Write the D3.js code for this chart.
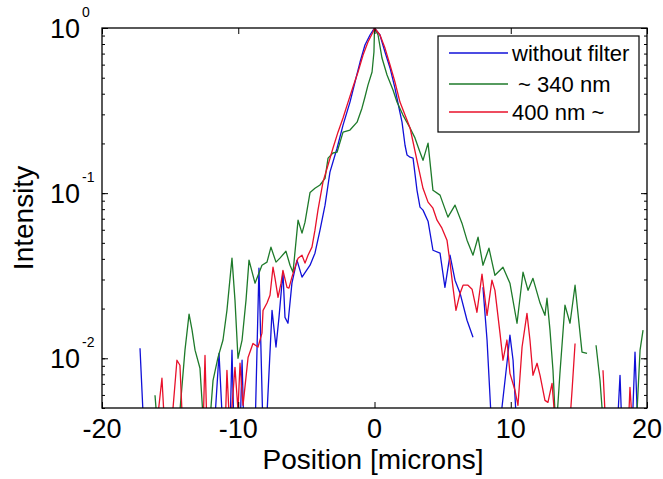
<!DOCTYPE html>
<html>
<head>
<meta charset="utf-8">
<script src="https://cdn.jsdelivr.net/npm/d3@7"></script>
<style>
  body { margin: 0; background: #fff; }
  text { font-family: "Liberation Sans", Arial, sans-serif; fill: #000; }
</style>
</head>
<body>
<svg></svg>
<script>
// series names (legend)
var seriesNames = ["without filter", " ~ 340 nm", "400 nm ~"];

// x ticks / y decades
var xTicks = [-20, -10, 0, 10, 20];
var yDecades = [-2, -1, 0];

// without filter (blue)
var bluePos = [-17.21, -16.92, -11.78, -11.41, -11.12, -10.61, -10.46, -10.31, -9.87, -9.72, -9.58, -8.77, -8.48, -8.18,
    -7.96, -7.52, -7.23, -7.01, -6.72, -6.57, -6.35, -6.06, -5.69, -5.32, -4.73, -4.37, -4.00, -3.63, -3.27, -2.75,
    -2.31, -1.80, -1.43, -1.06, -0.70, -0.33, 0.00, 0.40, 0.77, 1.14, 1.50, 1.80, 2.02, 2.24, 2.39, 2.61, 2.83, 3.12,
    3.34, 3.56, 3.93, 4.29, 4.81, 5.17, 5.54, 5.91, 6.28, 6.79, 7.23, 7.60, 7.96, 8.26, 8.62, 9.14, 9.72, 9.94, 10.17,
    10.46, 17.80, 18.02, 18.17, 18.90, 19.12, 19.34];
var blueInt = [0.0115, 0.0035, 0.0035, 0.0107, 0.0035, 0.0035, 0.0112, 0.0035, 0.0035, 0.00973, 0.0035, 0.0035, 0.0351, 0.0035,
    0.0035, 0.0195, 0.0117, 0.0177, 0.0332, 0.0177, 0.0163, 0.0285, 0.0393, 0.0310, 0.0366, 0.0433, 0.0597, 0.0846, 0.134, 0.187,
    0.258, 0.356, 0.471, 0.622, 0.789, 0.907, 1.0, 0.907, 0.716, 0.573, 0.433, 0.327, 0.269, 0.195, 0.170, 0.165, 0.163, 0.104,
    0.0823, 0.0789, 0.0676, 0.0451, 0.0433, 0.0269, 0.0421, 0.0297, 0.0248, 0.0170, 0.0134, null, 0.0269, 0.0129, 0.0035, 0.0035, 0.00933, 0.0138, 0.00973,
    0.0035, 0.0035, 0.00789, 0.0035, 0.0035, 0.0109, 0.0035];

// ~ 340 nm (green)
var greenPos = [-16.11, -15.89, -14.42, -13.91, -13.61, -13.39, -13.17, -12.81, -12.51, -12.15, -11.85, -11.49, -11.12, -10.83,
    -10.46, -10.24, -10.02, -9.72, -9.43, -9.21, -8.77, -8.26, -7.89, -7.60, -7.23, -6.94, -6.50, -6.20, -5.98, -5.61,
    -5.32, -5.10, -4.73, -4.37, -4.00, -3.63, -3.41, -3.05, -2.75, -2.31, -1.80, -1.28, -0.92, -0.70, -0.48, -0.18, -0.04,
    0.00, 0.26, 0.55, 0.92, 1.36, 1.65, 2.09, 2.61, 2.97, 3.34, 3.56, 3.93, 4.29, 4.81, 5.39, 5.91, 6.42, 6.79, 7.23,
    7.60, 7.96, 8.40, 8.84, 9.43, 9.94, 10.46, 10.90, 11.27, 11.63, 12.15, 12.51, 12.66, 12.88, 13.10, 13.32, 13.61, 13.98,
    14.35, 14.72, 15.23, 15.60, 15.89, 16.26, 16.55, 16.84, 19.19, 19.49, 19.71];
var greenInt = [0.00597, 0.0035, 0.0035, 0.0112, 0.0185, 0.0148, 0.0112, 0.00870, 0.0035, 0.0035, 0.00736, 0.0101, 0.0129, 0.0195,
    0.0404, 0.0225, 0.0100, 0.0129, 0.0225, 0.0393, 0.0285, 0.0366, 0.0382, 0.0471, 0.0382, 0.0404, 0.0445, 0.0366, 0.0332, 0.0686,
    0.0573, 0.0667, 0.101, 0.107, 0.112, 0.123, 0.163, 0.175, 0.177, 0.234, 0.241, 0.269, 0.327, 0.382, 0.451, 0.541, 0.716,
    1.0, 0.907, 0.658, 0.519, 0.421, 0.356, 0.297, 0.248, 0.216, 0.177, 0.158, 0.201, 0.104, 0.0973, 0.0716, 0.0846, 0.0658, 0.0519, 0.0421,
    0.0541, 0.0366, 0.0464, 0.0318, 0.0356, 0.0285, 0.0163, 0.0332, 0.0258, 0.0305, 0.0216, 0.0182, 0.0231, 0.0148, 0.00846, 0.0035, 0.00811, 0.0210,
    0.0163, 0.0277, 0.0109, 0.0107, null, 0.0120, 0.00736, 0.0035, 0.0035, 0.0112, 0.0148];

// 400 nm ~ (red)
var redPos = [-16.04, -15.60, -15.38, -14.94, -14.50, -14.28, -14.06, -12.59, -12.44, -12.29, -10.97, -10.83, -10.61, -10.24,
    -10.02, -9.87, -9.65, -9.28, -8.92, -8.55, -8.26, -8.18, -7.89, -7.67, -7.45, -7.30, -7.08, -6.86, -6.72, -6.42, -6.28,
    -6.06, -5.83, -5.61, -5.32, -5.10, -4.88, -4.59, -4.37, -4.15, -3.78, -3.41, -3.05, -2.68, -2.31, -1.94, -1.58, -1.21,
    -0.84, -0.48, -0.11, 0.00, 0.40, 0.77, 1.14, 1.50, 1.87, 2.24, 2.61, 2.83, 3.19, 3.56, 3.93, 4.29, 4.59, 4.95, 5.32,
    5.54, 5.76, 5.98, 6.28, 6.50, 6.86, 7.16, 7.52, 7.89, 8.26, 8.62, 8.84, 9.21, 9.43, 9.72, 9.94, 10.31, 10.53, 10.83, 11.19,
    11.41, 11.63, 11.93, 12.15, 12.51, 12.73, 13.03, 13.32, 14.28, 14.50, 14.72, 15.82, 16.77, 16.99, 18.61, 18.75, 18.97];
var redInt = [0.0035, 0.00757, 0.0035, 0.0035, 0.00973, 0.00907, 0.0035, 0.0035, 0.0104, 0.0035, 0.0035, 0.00846, 0.0035, 0.00882,
    0.00484, 0.00933, 0.00519, 0.0101, 0.0123, 0.0117, 0.0142, 0.0195, 0.0216, 0.0241, 0.0356, 0.0305, 0.0234, 0.0285, 0.0341, 0.0269, 0.0266,
    0.0310, 0.0356, 0.0404, 0.0421, 0.0377, 0.0421, 0.0471, 0.0597, 0.0789, 0.117, 0.148, 0.187, 0.234, 0.285, 0.356, 0.439, 0.541,
    0.686, 0.823, 0.946, 1.0, 0.907, 0.756, 0.597, 0.471, 0.356, 0.297, 0.248, 0.204, 0.148, 0.107, 0.0882, 0.0811, 0.0686, 0.0614, 0.0519,
    0.0382, 0.0269, 0.0195, 0.0248, 0.0277, 0.0277, 0.0262, 0.0190, 0.0323, 0.0182, 0.0297, 0.0258, 0.0142, 0.00973, 0.0129, 0.00811, 0.00640, 0.00519, 0.0117, 0.0187,
    0.0129, 0.00789, 0.00933, 0.00789, 0.00556, 0.00541, 0.00705, 0.0035, 0.0035, 0.00640, 0.0123, null, 0.00846, 0.0035, 0.0035, 0.00667, 0.0035];

var colors = ["#1010d8", "#1e7a2a", "#e8102a"];

function zip(xs, ys) {
    var out = [];
    for (var i = 0; i < xs.length; i++) out.push({ x: xs[i], y: ys[i] });
    return out;
}
var series = [zip(bluePos, blueInt), zip(greenPos, greenInt), zip(redPos, redInt)];

///////////////////////////////////////////////////////
// canvas
var svgWidth = 663, svgHeight = 479;
var plot = { left: 102, right: 647, top: 28, bottom: 408 };

var svg = d3.select("svg").attr("width", svgWidth).attr("height", svgHeight);

var x = d3.scaleLinear().domain([-20, 20]).range([plot.left, plot.right]);
var y = d3.scaleLog().domain([0.005, 1]).range([plot.bottom, plot.top]);

svg.append("defs").append("clipPath").attr("id", "clip")
    .append("rect")
    .attr("x", plot.left).attr("y", plot.top)
    .attr("width", plot.right - plot.left).attr("height", plot.bottom - plot.top);

// lines
var line = d3.line()
    .defined(d => d.y != null)
    .x(d => x(d.x))
    .y(d => y(d.y));

svg.append("g").attr("clip-path", "url(#clip)")
    .selectAll("path")
    .data(series)
    .enter()
    .append("path")
    .attr("d", line)
    .attr("fill", "none")
    .attr("stroke", (d, i) => colors[i])
    .attr("stroke-width", 1.3)
    .attr("stroke-linejoin", "round");

// minor + major y tick values
var minorY = [];
for (var k = -3; k <= 0; k++) {
    for (var m = 1; m <= 9; m++) {
        var v = m * Math.pow(10, k);
        if (v >= 0.005 && v <= 1.0001) minorY.push(v);
    }
}
var majorY = yDecades.map(d => Math.pow(10, d));

function yTicks(axisFn, tx, size, vals) {
    svg.append("g")
        .attr("transform", "translate(" + tx + ",0)")
        .call(axisFn(y).tickValues(vals).tickSize(size).tickFormat(""))
        .call(g => g.select(".domain").remove())
        .selectAll("line").attr("stroke", "#000");
}
yTicks(d3.axisLeft, plot.left, -3, minorY);
yTicks(d3.axisRight, plot.right, -3, minorY);
yTicks(d3.axisLeft, plot.left, -6, majorY);
yTicks(d3.axisRight, plot.right, -6, majorY);

function xTickLines(axisFn, ty) {
    svg.append("g")
        .attr("transform", "translate(0," + ty + ")")
        .call(axisFn(x).tickValues(xTicks).tickSize(-6).tickFormat(""))
        .call(g => g.select(".domain").remove())
        .selectAll("line").attr("stroke", "#000");
}
xTickLines(d3.axisBottom, plot.bottom);
xTickLines(d3.axisTop, plot.top);

// box
svg.append("rect")
    .attr("x", plot.left).attr("y", plot.top)
    .attr("width", plot.right - plot.left).attr("height", plot.bottom - plot.top)
    .attr("fill", "none").attr("stroke", "#000").attr("stroke-width", 1.3);

// x tick labels
svg.append("g").selectAll("text")
    .data(xTicks).enter()
    .append("text")
    .attr("x", d => x(d))
    .attr("y", 438)
    .attr("text-anchor", "middle")
    .attr("font-size", 27)
    .text(d => d < 0 ? "-" + Math.abs(d) : d);

// y tick labels 10^n
svg.append("g").selectAll("text")
    .data(yDecades).enter()
    .append("text")
    .attr("x", 80)
    .attr("y", d => y(Math.pow(10, d)) + 9.5)
    .attr("font-size", 27)
    .attr("text-anchor", "end")
    .text("10");
svg.append("g").selectAll("text")
    .data(yDecades).enter()
    .append("text")
    .attr("x", 82)
    .attr("y", d => y(Math.pow(10, d)) - 11)
    .attr("font-size", 14)
    .text(d => d < 0 ? "-" + Math.abs(d) : d);

// axis labels
svg.append("text")
    .attr("x", 373).attr("y", 469)
    .attr("text-anchor", "middle")
    .attr("font-size", 28)
    .text("Position [microns]");

svg.append("text")
    .attr("transform", "translate(33,218) rotate(-90)")
    .attr("text-anchor", "middle")
    .attr("font-size", 28)
    .text("Intensity");

// legend
var legend = svg.append("g");
legend.append("rect")
    .attr("x", 438).attr("y", 36).attr("width", 201).attr("height", 96)
    .attr("fill", "#fff").attr("stroke", "#000").attr("stroke-width", 1.2);
var legendY = [53, 84, 112];
seriesNames.forEach(function (name, i) {
    legend.append("line")
        .attr("x1", 449).attr("x2", 508)
        .attr("y1", legendY[i]).attr("y2", legendY[i])
        .attr("stroke", colors[i]).attr("stroke-width", 1.3);
    legend.append("text")
        .attr("x", 512).attr("y", legendY[i] + 8)
        .attr("font-size", 22)
        .style("white-space", "pre")
        .text(name);
});
</script>
</body>
</html>
